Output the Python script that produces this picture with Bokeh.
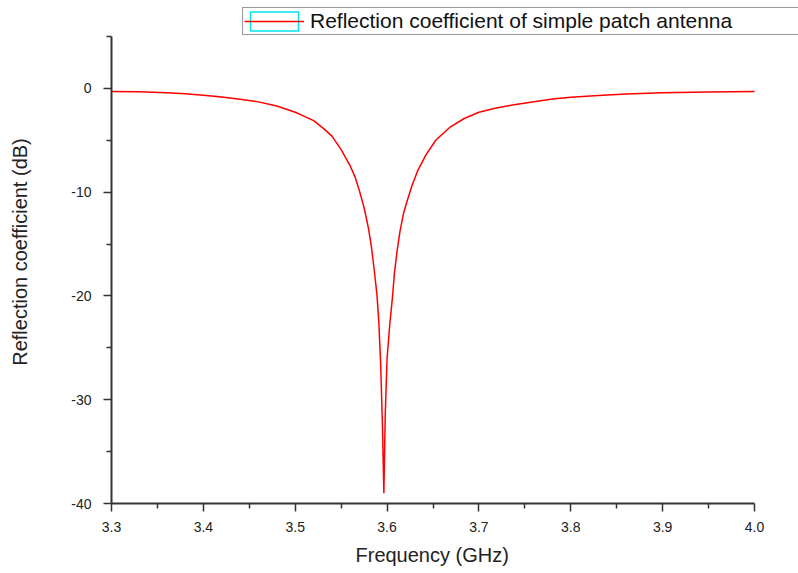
from bokeh.plotting import figure
from bokeh.models import (ColumnDataSource, FixedTicker, Legend, LegendItem,
                          CustomJSTickFormatter, Range1d, Title)
from bokeh.embed import file_html
from bokeh.resources import INLINE

# Frequency (GHz) and reflection coefficient (dB)
freq_ghz = [3.300, 3.330, 3.360, 3.380, 3.400, 3.420, 3.440, 3.460, 3.480,
            3.500, 3.510, 3.520, 3.530, 3.540, 3.550, 3.560, 3.565, 3.570,
            3.575, 3.580, 3.583, 3.586, 3.589, 3.591, 3.593, 3.595, 3.5965,
            3.598, 3.600, 3.603, 3.606, 3.608, 3.611, 3.614, 3.618, 3.622,
            3.627, 3.633, 3.642, 3.653, 3.669, 3.684, 3.700, 3.720, 3.740,
            3.760, 3.780, 3.800, 3.830, 3.860, 3.900, 3.950, 4.000]
s11_db = [-0.30, -0.33, -0.42, -0.52, -0.65, -0.84, -1.05, -1.30, -1.70,
          -2.30, -2.70, -3.10, -3.80, -4.60, -5.90, -7.50, -8.50, -9.90,
          -11.5, -13.6, -15.3, -17.5, -19.9, -22.5, -26.5, -32.6, -39.0,
          -31.5, -26.0, -22.7, -20.0, -17.8, -15.6, -13.8, -12.0, -10.8,
          -9.4, -8.0, -6.46, -5.0, -3.7, -2.9, -2.3, -1.87, -1.55,
          -1.28, -1.03, -0.85, -0.68, -0.55, -0.43, -0.35, -0.30]

x_major = [3.3, 3.4, 3.5, 3.6, 3.7, 3.8, 3.9, 4.0]
x_minor = [3.35, 3.45, 3.55, 3.65, 3.75, 3.85, 3.95]
y_major = [-40, -30, -20, -10, 0]
y_minor = [-35, -25, -15, -5, 5]
x_axis_span = (3.3, 4.0)
y_axis_span = (-40, 5)

series_label = "Reflection coefficient of simple patch antenna"
x_title = "Frequency (GHz)"
y_title = "Reflection coefficient (dB)"

FONT = "Liberation Sans"
AXIS_COLOR = "#333333"

# frame: axis spans 643 px (x) and 467 px (y); extra room above/right holds the legend
TOP_ROOM = 36
px_per_x = 643 / (x_axis_span[1] - x_axis_span[0])
px_per_y = 467 / (y_axis_span[1] - y_axis_span[0])
x_end = x_axis_span[1] + 44 / px_per_x
y_end = y_axis_span[1] + TOP_ROOM / px_per_y

p = figure(width=798, height=573, output_backend="svg", toolbar_location=None,
           x_range=Range1d(x_axis_span[0], x_end),
           y_range=Range1d(y_axis_span[0], y_end),
           min_border_left=111, min_border_right=0,
           min_border_top=36 - TOP_ROOM, min_border_bottom=70)
p.outline_line_color = None
p.xgrid.visible = False
p.ygrid.visible = False
p.background_fill_color = "white"
p.border_fill_color = "white"

src = ColumnDataSource(data=dict(x=freq_ghz, y=s11_db))
r_line = p.line("x", "y", source=src, line_color="#ff0000", line_width=1.5)

# off-data renderer used only for the cyan frame of the legend glyph
r_box = p.rect(x=[float("nan")], y=[float("nan")], width=[0.0], height=[0.0],
               fill_color=None, line_color="#00e5f0", line_width=1.5)

for ax in (p.xaxis[0], p.yaxis[0]):
    ax.axis_line_color = AXIS_COLOR
    ax.axis_line_width = 2
    ax.major_tick_line_color = AXIS_COLOR
    ax.minor_tick_line_color = AXIS_COLOR
    ax.major_tick_line_width = 1.5
    ax.minor_tick_line_width = 1.5
    ax.major_tick_out = 8
    ax.major_tick_in = 0
    ax.minor_tick_out = 5
    ax.minor_tick_in = 0
    ax.major_label_text_font = FONT
    ax.major_label_text_font_size = "14px"
    ax.major_label_text_color = "#222222"
    ax.axis_label_text_font = FONT
    ax.axis_label_text_font_size = "20px"
    ax.axis_label_text_font_style = "normal"
    ax.axis_label_text_color = "#222222"

p.xaxis.bounds = x_axis_span
p.yaxis.bounds = y_axis_span
p.xaxis.ticker = FixedTicker(ticks=x_major, minor_ticks=x_minor)
p.yaxis.ticker = FixedTicker(ticks=y_major, minor_ticks=y_minor)
p.xaxis.formatter = CustomJSTickFormatter(code="return tick.toFixed(1);")
p.yaxis.formatter = CustomJSTickFormatter(code="return tick.toFixed(0);")
p.yaxis.axis_label = y_title
p.xaxis.major_label_standoff = 10
p.yaxis.major_label_standoff = 12
p.yaxis.axis_label_standoff = 37

# x title centred under the axis span (not the wider frame)
xt = Title(text=x_title, align="left", offset=244, standoff=15,
           text_font=FONT, text_font_size="20px", text_font_style="normal",
           text_color="#222222")
p.add_layout(xt, "below")

legend = Legend(items=[LegendItem(label=series_label, renderers=[r_box, r_line])],
                location=(131, 468), orientation="vertical",
                glyph_width=60, glyph_height=24, label_height=22,
                label_width=490, label_standoff=6, padding=1, margin=0,
                spacing=0,
                border_line_color="#333333", border_line_width=1.5,
                background_fill_color="white", background_fill_alpha=1.0,
                label_text_font=FONT, label_text_font_size="21px",
                label_text_color="#111111")
p.add_layout(legend, "center")

open("out.html", "w").write(file_html(p, INLINE))
